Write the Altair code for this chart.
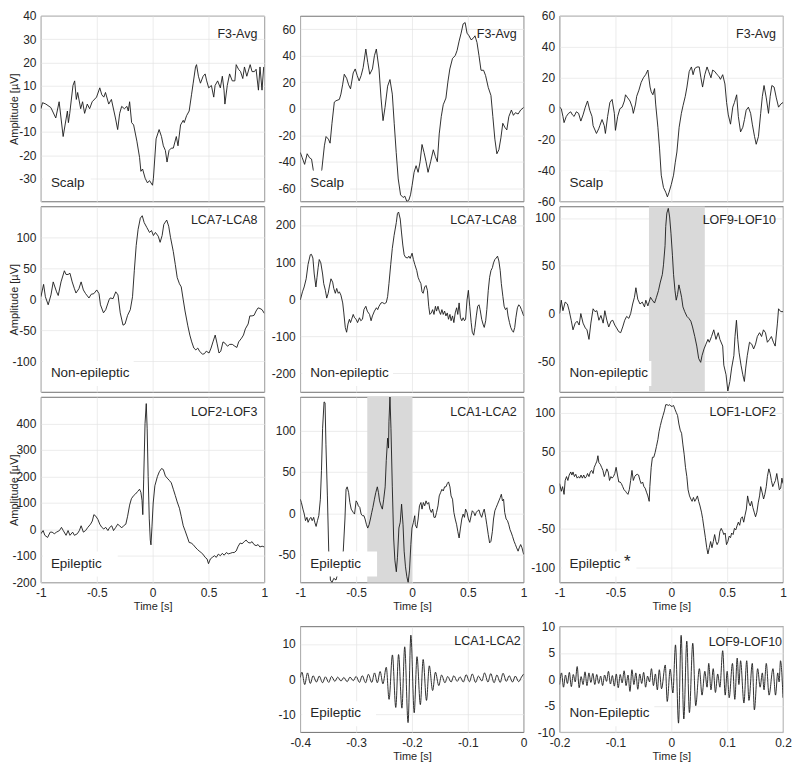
import altair as alt
import pandas as pd

FONT = "Liberation Sans"
TXT = "#262626"
W = 224
H = 186
H4 = 106
GAP = 34

# ---------------- data (time [s], amplitude [uV]) ----------------
A_pts = [(-1.000, 0), (-0.985, 2.6), (-0.956, 2), (-0.911, 0.5), (-0.867, -4), (-0.837, 3), (-0.801, -12),
         (-0.763, -1), (-0.754, -6), (-0.742, -2), (-0.713, 10), (-0.698, 12), (-0.683, 4), (-0.671, 7),
         (-0.644, 0), (-0.627, 3), (-0.609, -2), (-0.585, 2), (-0.564, 0), (-0.541, 3), (-0.502, 5),
         (-0.473, 9), (-0.455, 6), (-0.437, 5), (-0.422, 7), (-0.393, 2), (-0.369, 4), (-0.333, -4),
         (-0.313, -9), (-0.295, -2), (-0.277, 1), (-0.253, 0), (-0.230, 1), (-0.218, -1), (-0.206, 3),
         (-0.188, -6), (-0.170, -7), (-0.141, -14), (-0.117, -21), (-0.105, -27), (-0.090, -26),
         (-0.067, -30), (-0.046, -32), (-0.028, -31), (-0.001, -33), (0.007, -30), (0.031, -13),
         (0.058, -9), (0.079, -12), (0.096, -16), (0.114, -18), (0.129, -23), (0.147, -18), (0.167, -17),
         (0.185, -17), (0.212, -12), (0.227, -16), (0.250, -7), (0.274, -5), (0.283, -6), (0.304, -3),
         (0.327, -1), (0.348, 6), (0.363, 11), (0.384, 18), (0.393, 19), (0.410, 14), (0.428, 11),
         (0.452, 14), (0.470, 15), (0.484, 12), (0.502, 9), (0.526, 10), (0.547, 5), (0.559, 10),
         (0.582, 12), (0.606, 9), (0.624, 14), (0.639, 8), (0.647, 2), (0.668, 10), (0.689, 15),
         (0.713, 12), (0.736, 12), (0.748, 19), (0.769, 17), (0.787, 16), (0.807, 13), (0.822, 18),
         (0.843, 14), (0.873, 19), (0.890, 16), (0.911, 16), (0.926, 17), (0.947, 8), (0.961, 18),
         (0.979, 8), (0.994, 18)]

B_pts = [(-1.000, -33), (-0.982, -37), (-0.961, -42), (-0.938, -34), (-0.917, -37), (-0.899, -38),
         (-0.884, -46), (-0.846, -60), (-0.807, -46), (-0.784, -28), (-0.769, -21), (-0.748, -23),
         (-0.733, -26), (-0.716, -11), (-0.695, 5), (-0.680, 6), (-0.650, 7), (-0.636, 11), (-0.621, 18),
         (-0.606, 26), (-0.585, 23), (-0.567, 18), (-0.550, 15), (-0.526, 27), (-0.508, 30), (-0.490, 25),
         (-0.473, 21), (-0.455, 25), (-0.437, 31), (-0.413, 45), (-0.396, 35), (-0.378, 26), (-0.354, 30),
         (-0.336, 40), (-0.319, 45), (-0.295, 30), (-0.277, 8), (-0.259, -9), (-0.241, 1), (-0.218, 17),
         (-0.197, 22), (-0.176, 11), (-0.159, -11), (-0.141, -33), (-0.123, -53), (-0.102, -65),
         (-0.079, -67), (-0.064, -66), (-0.046, -70), (-0.028, -69), (-0.013, -65), (0.001, -58),
         (0.019, -48), (0.037, -43), (0.055, -48), (0.073, -40), (0.090, -27), (0.108, -33), (0.126, -40),
         (0.144, -48), (0.167, -40), (0.191, -31), (0.209, -36), (0.227, -40), (0.244, -19), (0.262, -6),
         (0.280, 3), (0.304, 8), (0.321, 20), (0.339, 30), (0.363, 38), (0.387, 40), (0.404, 44),
         (0.422, 51), (0.440, 57), (0.458, 64), (0.476, 65), (0.493, 57), (0.511, 55), (0.529, 52),
         (0.547, 53), (0.564, 55), (0.582, 50), (0.600, 40), (0.618, 29), (0.641, 29), (0.659, 25),
         (0.683, 16), (0.707, 10), (0.724, -6), (0.742, -23), (0.760, -34), (0.778, -31), (0.796, -22),
         (0.813, -11), (0.831, -14), (0.849, -16), (0.867, -6), (0.890, -1), (0.908, -5), (0.926, -3),
         (0.950, -4), (0.973, -1), (1.000, 1)]

C_pts = [(-1.000, 1), (-0.985, 0), (-0.970, -5), (-0.960, -9), (-0.940, -5), (-0.920, -3), (-0.900, -2),
         (-0.885, -4), (-0.870, -5), (-0.850, -2), (-0.830, -3), (-0.810, -8), (-0.790, -4), (-0.770, 1),
         (-0.750, 5), (-0.730, -1), (-0.710, -5), (-0.700, -11), (-0.670, -16), (-0.650, -13),
         (-0.640, -11), (-0.620, -7), (-0.600, -11), (-0.590, -16), (-0.570, -5), (-0.550, 4), (-0.530, 6),
         (-0.510, -3), (-0.500, -14), (-0.480, -5), (-0.460, 0), (-0.440, 1), (-0.420, 5), (-0.410, 9),
         (-0.390, 7), (-0.370, 5), (-0.350, 1), (-0.340, -3), (-0.320, 3), (-0.310, 8), (-0.290, 12),
         (-0.270, 17), (-0.250, 20), (-0.230, 22), (-0.210, 25), (-0.190, 14), (-0.180, 11), (-0.165, 9),
         (-0.150, 13), (-0.140, 3), (-0.120, -12), (-0.105, -26), (-0.090, -43), (-0.070, -51),
         (-0.050, -54), (-0.035, -57), (-0.020, -54), (0.000, -49), (0.020, -43), (0.035, -35),
         (0.050, -28), (0.070, -12), (0.090, -3), (0.105, 2), (0.125, 8), (0.140, 14), (0.160, 24),
         (0.180, 27), (0.195, 22), (0.210, 26), (0.230, 27), (0.250, 27), (0.265, 20), (0.280, 14),
         (0.300, 22), (0.320, 27), (0.335, 24), (0.355, 20), (0.370, 25), (0.390, 24), (0.410, 22),
         (0.425, 21), (0.440, 19), (0.460, 22), (0.480, 16), (0.495, 4), (0.510, -4), (0.530, -10),
         (0.550, 1), (0.565, 4), (0.585, 9), (0.600, -5), (0.620, -15), (0.640, -12), (0.655, -7),
         (0.670, -1), (0.690, 1), (0.710, -3), (0.725, -10), (0.745, -18), (0.760, -23), (0.780, -18),
         (0.800, -3), (0.815, 8), (0.830, 15), (0.850, 7), (0.870, -3), (0.885, 8), (0.900, 15),
         (0.920, 14), (0.940, 7), (0.960, 1), (0.980, 3), (1.000, 4)]

D_pts = [(-1.000, 4), (-0.976, 24), (-0.960, 4), (-0.935, -9), (-0.910, 7), (-0.890, 28), (-0.860, 12),
         (-0.845, 6), (-0.820, 28), (-0.790, 46), (-0.775, 40), (-0.757, 40), (-0.740, 42), (-0.720, 28),
         (-0.700, 17), (-0.686, 10), (-0.660, 17), (-0.640, 28), (-0.620, 15), (-0.600, 9), (-0.570, 2),
         (-0.550, 8), (-0.526, 9), (-0.500, 15), (-0.480, 9), (-0.467, -9), (-0.440, -22), (-0.420, -17),
         (-0.390, -1), (-0.380, 2), (-0.354, 1), (-0.330, 12), (-0.310, 7), (-0.290, -22), (-0.265, -42),
         (-0.247, -40), (-0.224, -26), (-0.200, -17), (-0.180, 4), (-0.164, 46), (-0.147, 87),
         (-0.130, 113), (-0.110, 131), (-0.093, 135), (-0.076, 124), (-0.052, 116), (-0.028, 108),
         (-0.010, 111), (0.007, 103), (0.025, 108), (0.050, 102), (0.067, 92), (0.085, 103), (0.100, 121),
         (0.126, 128), (0.144, 118), (0.160, 100), (0.185, 77), (0.203, 56), (0.220, 35), (0.240, 25),
         (0.256, 20), (0.274, -1), (0.290, -19), (0.315, -43), (0.333, -58), (0.350, -69), (0.369, -79),
         (0.387, -82), (0.404, -79), (0.420, -84), (0.446, -89), (0.464, -88), (0.480, -84), (0.505, -87),
         (0.523, -79), (0.540, -69), (0.560, -58), (0.576, -71), (0.594, -87), (0.610, -84), (0.630, -69),
         (0.647, -71), (0.670, -76), (0.690, -73), (0.713, -73), (0.736, -76), (0.754, -78), (0.770, -69),
         (0.796, -63), (0.813, -58), (0.830, -48), (0.855, -40), (0.870, -27), (0.890, -27), (0.908, -26),
         (0.926, -19), (0.944, -14), (0.961, -15), (0.980, -17), (1.000, -23)]

E_pts = [(-1.000, -2), (-0.980, 20), (-0.965, 33), (-0.947, 55), (-0.930, 94), (-0.910, 120),
         (-0.900, 121), (-0.887, 111), (-0.875, 68), (-0.860, 33), (-0.850, 59), (-0.840, 85),
         (-0.830, 107), (-0.816, 98), (-0.800, 68), (-0.790, 42), (-0.775, 24), (-0.763, 3), (-0.750, 16),
         (-0.740, 33), (-0.725, 55), (-0.710, 46), (-0.700, 29), (-0.686, 16), (-0.674, 29), (-0.660, 16),
         (-0.650, 20), (-0.636, 11), (-0.620, -10), (-0.610, -37), (-0.597, -76), (-0.585, -89),
         (-0.573, -67), (-0.560, -54), (-0.550, -63), (-0.540, -54), (-0.526, -41), (-0.514, -50),
         (-0.500, -54), (-0.487, -63), (-0.470, -50), (-0.458, -58), (-0.443, -54), (-0.430, -28),
         (-0.413, -19), (-0.400, -32), (-0.380, -41), (-0.366, -58), (-0.354, -45), (-0.336, -32),
         (-0.318, -23), (-0.307, -28), (-0.295, -19), (-0.277, -10), (-0.265, -9), (-0.247, -12),
         (-0.230, -9), (-0.218, 7), (-0.206, 42), (-0.190, 94), (-0.176, 137), (-0.160, 172), (-0.140, 207),
         (-0.130, 231), (-0.120, 235), (-0.105, 216), (-0.094, 181), (-0.082, 146), (-0.070, 120),
         (-0.058, 113), (-0.040, 111), (-0.028, 116), (-0.016, 110), (0.001, 124), (0.013, 107),
         (0.025, 94), (0.043, 77), (0.055, 59), (0.067, 50), (0.080, 42), (0.090, 20), (0.100, 16),
         (0.114, 33), (0.126, 37), (0.138, 24), (0.150, -19), (0.160, -41), (0.173, -37), (0.185, -28),
         (0.197, -41), (0.210, -19), (0.220, -32), (0.233, -19), (0.244, -32), (0.256, -41), (0.268, -28),
         (0.280, -41), (0.292, -32), (0.304, -45), (0.316, -37), (0.327, -54), (0.340, -41), (0.350, -58),
         (0.363, -45), (0.375, -63), (0.387, -37), (0.400, -23), (0.410, -41), (0.422, -10), (0.434, -50),
         (0.446, -58), (0.458, -50), (0.470, -58), (0.480, -54), (0.493, -2), (0.505, 24), (0.517, -19),
         (0.530, -63), (0.540, -89), (0.553, -97), (0.564, -76), (0.576, -45), (0.588, -19), (0.600, -15),
         (0.610, -28), (0.624, -54), (0.636, -67), (0.647, -76), (0.660, -58), (0.670, -28), (0.683, 24),
         (0.695, 59), (0.707, 77), (0.720, 85), (0.730, 98), (0.742, 107), (0.754, 111), (0.766, 116),
         (0.778, 103), (0.790, 77), (0.800, 42), (0.814, 7), (0.825, -19), (0.837, -28), (0.850, -23),
         (0.860, -45), (0.873, -63), (0.884, -76), (0.896, -84), (0.908, -89), (0.920, -76), (0.930, -50),
         (0.944, -23), (0.956, -15), (0.967, -19), (0.980, -28), (1.000, -45)]

F_pts = [(-1.000, 0), (-0.985, 14), (-0.970, 3), (-0.950, 12), (-0.930, 10), (-0.914, 3), (-0.896, -7),
         (-0.880, -17), (-0.860, -10), (-0.843, -8), (-0.825, -12), (-0.810, 0), (-0.790, -10),
         (-0.770, -15), (-0.755, -17), (-0.737, -27), (-0.720, -10), (-0.700, 5), (-0.683, 2),
         (-0.666, 3), (-0.648, -7), (-0.630, -2), (-0.610, -10), (-0.595, 3), (-0.577, -7), (-0.560, -14),
         (-0.540, -8), (-0.524, -7), (-0.506, -12), (-0.490, -15), (-0.470, -19), (-0.453, -20),
         (-0.435, -14), (-0.417, -7), (-0.400, -3), (-0.380, -5), (-0.364, 0), (-0.346, 10), (-0.330, 17),
         (-0.317, 27), (-0.300, 15), (-0.280, 10), (-0.260, 12), (-0.240, 7), (-0.228, 14), (-0.210, 8),
         (-0.186, 17), (-0.170, 14), (-0.150, 11), (-0.133, 17), (-0.115, 24), (-0.100, 32), (-0.080, 41),
         (-0.070, 51), (-0.056, 71), (-0.050, 91), (-0.040, 105), (-0.027, 110), (-0.015, 101),
         (-0.003, 84), (0.010, 61), (0.020, 41), (0.033, 24), (0.044, 14), (0.056, 20), (0.068, 30),
         (0.080, 24), (0.092, 17), (0.104, 7), (0.120, 2), (0.140, -3), (0.157, -5), (0.175, -8),
         (0.190, -14), (0.210, -24), (0.228, -34), (0.245, -47), (0.263, -51), (0.275, -44), (0.293, -37),
         (0.310, -32), (0.328, -27), (0.340, -30), (0.360, -24), (0.380, -17), (0.400, -27), (0.420, -20),
         (0.435, -27), (0.460, -34), (0.470, -54), (0.490, -64), (0.506, -81), (0.524, -71), (0.540, -57),
         (0.560, -44), (0.570, -24), (0.583, -7), (0.595, -27), (0.607, -41), (0.624, -54), (0.640, -64),
         (0.654, -71), (0.666, -57), (0.680, -44), (0.700, -30), (0.720, -32), (0.737, -37), (0.754, -32),
         (0.770, -24), (0.790, -20), (0.808, -24), (0.825, -17), (0.843, -20), (0.860, -30), (0.880, -27),
         (0.896, -24), (0.914, -30), (0.930, -34), (0.950, -10), (0.960, 5), (0.980, 2), (1.000, 2)]

G_pts = [(-1.000, -16), (-0.980, -4), (-0.965, -22), (-0.940, -30), (-0.917, -10), (-0.900, -10),
         (-0.880, -16), (-0.860, -10), (-0.834, -4), (-0.816, 8), (-0.800, -4), (-0.775, -22),
         (-0.757, -4), (-0.740, -22), (-0.716, -10), (-0.700, -22), (-0.674, -16), (-0.656, -4),
         (-0.640, 14), (-0.620, -10), (-0.600, -4), (-0.580, 8), (-0.556, 20), (-0.540, 32), (-0.526, 56),
         (-0.508, 50), (-0.490, 38), (-0.473, 20), (-0.455, 8), (-0.437, 2), (-0.420, 8), (-0.400, -4),
         (-0.384, 8), (-0.366, 14), (-0.350, -4), (-0.330, 8), (-0.313, 20), (-0.295, 14), (-0.277, 6),
         (-0.260, 14), (-0.240, 20), (-0.224, 50), (-0.206, 92), (-0.190, 116), (-0.170, 128),
         (-0.153, 134), (-0.135, 143), (-0.117, 152), (-0.105, 140), (-0.095, 110), (-0.088, 56),
         (-0.080, 190), (-0.068, 400), (-0.057, 475), (-0.049, 380), (-0.040, 200), (-0.030, 40),
         (-0.021, -40), (-0.015, -58), (-0.006, 10), (0.005, 100), (0.020, 165), (0.043, 200), (0.060, 218),
         (0.080, 230), (0.096, 226), (0.114, 202), (0.130, 194), (0.150, 185), (0.167, 176), (0.185, 152),
         (0.203, 128), (0.220, 104), (0.240, 80), (0.256, 50), (0.274, 14), (0.290, -4), (0.310, -28),
         (0.327, -49), (0.345, -51), (0.363, -57), (0.380, -66), (0.400, -75), (0.416, -81), (0.434, -87),
         (0.450, -93), (0.470, -105), (0.487, -111), (0.500, -129), (0.517, -111), (0.535, -105),
         (0.553, -99), (0.570, -105), (0.588, -93), (0.606, -99), (0.624, -90), (0.640, -97), (0.660, -87),
         (0.677, -92), (0.695, -90), (0.713, -87), (0.730, -87), (0.748, -81), (0.766, -63), (0.784, -51),
         (0.800, -54), (0.820, -46), (0.837, -40), (0.855, -49), (0.873, -51), (0.890, -46), (0.908, -57),
         (0.926, -61), (0.944, -57), (0.960, -66), (0.980, -63), (1.000, -66)]

H_pts = [(-1.000, 17), (-0.990, 13), (-0.976, 5), (-0.964, -1), (-0.953, -9), (-0.940, -5), (-0.930, -11),
         (-0.917, -7), (-0.905, -5), (-0.893, -9), (-0.880, -5), (-0.870, -11), (-0.858, -16),
         (-0.846, -9), (-0.834, -3), (-0.820, 17), (-0.810, 52), (-0.800, 103), (-0.787, 135),
         (-0.778, 134), (-0.770, 83), (-0.757, 21), (-0.745, -46), (-0.730, -81), (-0.716, -84),
         (-0.700, -79), (-0.680, -81), (-0.656, -69), (-0.630, -54), (-0.615, -46), (-0.600, -7),
         (-0.590, 29), (-0.580, 32), (-0.567, 25), (-0.556, 13), (-0.544, 5), (-0.526, 1), (-0.514, -1),
         (-0.500, 15), (-0.490, 13), (-0.480, 9), (-0.467, 7), (-0.455, -1), (-0.443, -3), (-0.430, -3),
         (-0.420, -7), (-0.407, -14), (-0.396, -18), (-0.384, -14), (-0.372, -7), (-0.360, 1), (-0.350, 7),
         (-0.336, 17), (-0.324, 25), (-0.310, 32), (-0.300, 25), (-0.290, 15), (-0.277, 9), (-0.265, 5),
         (-0.253, 17), (-0.240, 32), (-0.230, 64), (-0.218, 91), (-0.210, 79), (-0.206, 111),
         (-0.197, 141), (-0.188, 103), (-0.176, 32), (-0.164, -30), (-0.153, -57), (-0.140, -71),
         (-0.130, -54), (-0.117, -18), (-0.105, -11), (-0.093, 11), (-0.080, -14), (-0.070, -46),
         (-0.058, -65), (-0.046, -77), (-0.034, -84), (-0.022, -69), (-0.010, -38), (0.000, -18),
         (0.013, -11), (0.025, -3), (0.030, -14), (0.043, -18), (0.055, -7), (0.067, 9), (0.080, 13),
         (0.090, 5), (0.102, 13), (0.114, 9), (0.126, 15), (0.138, 11), (0.150, 13), (0.160, 5),
         (0.173, 1), (0.185, 5), (0.197, -5), (0.209, -5), (0.220, 1), (0.233, 9), (0.244, 21), (0.256, 25),
         (0.268, 29), (0.280, 27), (0.292, 32), (0.304, 32), (0.316, 36), (0.327, 38), (0.340, 32),
         (0.350, 21), (0.363, 17), (0.375, 1), (0.387, -7), (0.400, -14), (0.410, -22), (0.422, -30),
         (0.434, -18), (0.446, -7), (0.458, -1), (0.470, -5), (0.480, 5), (0.493, 1), (0.505, -7),
         (0.517, -11), (0.530, -3), (0.540, 3), (0.553, 1), (0.564, -3), (0.576, 1), (0.588, 3), (0.600, 4),
         (0.610, -1), (0.624, -5), (0.636, 1), (0.647, 5), (0.660, -5), (0.670, -14), (0.683, -26),
         (0.695, -36), (0.707, -34), (0.720, -22), (0.730, -7), (0.742, 3), (0.754, 7), (0.766, 11),
         (0.778, 15), (0.790, 19), (0.800, 23), (0.810, 15), (0.820, 17), (0.830, 1), (0.843, -7),
         (0.855, -9), (0.867, -14), (0.878, -20), (0.890, -24), (0.900, -28), (0.914, -34), (0.926, -38),
         (0.937, -42), (0.950, -46), (0.960, -42), (0.973, -38), (0.985, -42), (1.000, -50)]

I_pts = [(-1.000, 8), (-0.985, -2), (-0.973, 4), (-0.960, -6), (-0.950, 12), (-0.938, 17), (-0.926, 12),
         (-0.914, 19), (-0.900, 23), (-0.890, 19), (-0.880, 23), (-0.867, 17), (-0.855, 20), (-0.843, 15),
         (-0.830, 17), (-0.820, 15), (-0.808, 19), (-0.796, 15), (-0.784, 19), (-0.772, 15), (-0.760, 17),
         (-0.750, 21), (-0.737, 17), (-0.725, 23), (-0.713, 25), (-0.700, 21), (-0.690, 29), (-0.678, 33),
         (-0.666, 37), (-0.657, 44), (-0.648, 35), (-0.636, 33), (-0.624, 29), (-0.612, 25), (-0.600, 17),
         (-0.590, 21), (-0.577, 27), (-0.565, 23), (-0.553, 12), (-0.540, 17), (-0.530, 15), (-0.518, 17),
         (-0.506, 21), (-0.494, 29), (-0.482, 19), (-0.470, 10), (-0.458, 10), (-0.447, 8), (-0.435, 4),
         (-0.423, 0), (-0.410, -2), (-0.400, -4), (-0.388, -6), (-0.376, 0), (-0.364, 12), (-0.352, 25),
         (-0.340, 12), (-0.328, 17), (-0.317, 19), (-0.305, 20), (-0.293, 19), (-0.280, 12), (-0.270, 8),
         (-0.257, 10), (-0.245, 4), (-0.234, 2), (-0.220, -4), (-0.210, -8), (-0.198, -15), (-0.192, 4),
         (-0.180, 29), (-0.169, 42), (-0.157, 42), (-0.145, 48), (-0.133, 56), (-0.120, 65), (-0.110, 75),
         (-0.098, 83), (-0.086, 90), (-0.074, 96), (-0.062, 102), (-0.050, 110), (-0.038, 110),
         (-0.027, 109), (-0.015, 110), (-0.003, 108), (0.009, 108), (0.020, 109), (0.033, 104),
         (0.044, 100), (0.056, 96), (0.068, 85), (0.080, 77), (0.092, 73), (0.104, 58), (0.115, 46),
         (0.127, 29), (0.139, 17), (0.150, 0), (0.163, -8), (0.175, -12), (0.186, -15), (0.198, -10),
         (0.210, -15), (0.222, -12), (0.234, -8), (0.245, -15), (0.257, -21), (0.270, -29), (0.280, -37),
         (0.293, -50), (0.305, -62), (0.317, -75), (0.328, -83), (0.340, -75), (0.352, -67), (0.364, -75),
         (0.376, -67), (0.388, -58), (0.400, -67), (0.410, -71), (0.423, -67), (0.435, -54), (0.447, -50),
         (0.460, -54), (0.470, -58), (0.482, -56), (0.494, -71), (0.506, -67), (0.518, -60), (0.530, -62),
         (0.540, -56), (0.553, -58), (0.565, -50), (0.577, -52), (0.590, -46), (0.600, -42), (0.612, -46),
         (0.624, -37), (0.636, -35), (0.648, -42), (0.660, -33), (0.672, -25), (0.683, -8), (0.695, -17),
         (0.707, -21), (0.719, -15), (0.730, -23), (0.742, -29), (0.754, -35), (0.766, -29), (0.778, -17),
         (0.790, -8), (0.800, 4), (0.814, -4), (0.826, -12), (0.837, -6), (0.850, 4), (0.860, 17),
         (0.873, 27), (0.885, 21), (0.896, 12), (0.908, 4), (0.920, 8), (0.932, 12), (0.944, 21),
         (0.956, 10), (0.967, 0), (0.979, 2), (0.990, 15), (1.000, 8)]

J_pts = [(-0.400, 0.5), (-0.397, 2.0), (-0.392, -1.5), (-0.387, 1.8), (-0.382, -1.2), (-0.377, 1.0),
         (-0.371, -0.8), (-0.366, 0.9), (-0.360, -1.0), (-0.355, 0.7), (-0.349, -0.9), (-0.344, 0.8),
         (-0.338, -0.6), (-0.333, 0.6), (-0.327, -0.5), (-0.322, 0.5), (-0.316, -0.7), (-0.311, 0.6),
         (-0.305, -0.4), (-0.300, 0.8), (-0.294, -0.9), (-0.289, 1.0), (-0.283, -1.0), (-0.278, 1.4),
         (-0.272, -0.9), (-0.267, 1.8), (-0.262, -1.0), (-0.257, 2.2), (-0.252, -1.3), (-0.246, 3.4),
         (-0.241, -5.7), (-0.235, 6.9), (-0.229, -8.0), (-0.224, 7.0), (-0.218, -8.2), (-0.213, 9.2),
         (-0.207, -12.3), (-0.202, 12.5), (-0.196, -9.5), (-0.191, 6.4), (-0.185, -7.2), (-0.180, 5.6),
         (-0.174, -6.0), (-0.169, 3.8), (-0.163, -3.2), (-0.158, 2.0), (-0.152, -1.8), (-0.147, 1.2),
         (-0.141, -1.0), (-0.136, 0.8), (-0.130, -0.8), (-0.125, 1.0), (-0.119, -0.6), (-0.114, 0.7),
         (-0.108, -0.8), (-0.103, 1.3), (-0.097, -0.7), (-0.092, 1.5), (-0.086, -0.9), (-0.081, 0.9),
         (-0.075, -0.5), (-0.070, 1.8), (-0.064, -0.8), (-0.059, 1.6), (-0.053, -1.0), (-0.048, 1.2),
         (-0.042, -0.9), (-0.037, 1.7), (-0.031, -0.6), (-0.026, 1.0), (-0.020, -0.8), (-0.015, 0.9),
         (-0.009, -0.7), (-0.004, 0.6), (0.000, 1.5)]

K_pts = [(-0.200, -1.0), (-0.1965, 1.2), (-0.193, -1.5), (-0.1895, 0.8), (-0.186, -0.8), (-0.1825, 1.3),
         (-0.179, -1.4), (-0.1755, 0.9), (-0.172, -0.5), (-0.1685, 2.4), (-0.165, -1.6), (-0.1615, 0.5),
         (-0.158, -1.0), (-0.1545, 1.4), (-0.151, -1.2), (-0.1475, 1.2), (-0.144, -0.6), (-0.1405, 1.1),
         (-0.137, -1.0), (-0.1335, 0.9), (-0.130, -0.8), (-0.1265, 0.6), (-0.123, -1.2), (-0.1195, 0.8),
         (-0.116, -0.4), (-0.1125, 1.5), (-0.109, -0.9), (-0.1055, 0.7), (-0.102, -1.3), (-0.0985, 1.0),
         (-0.095, -1.6), (-0.0915, 0.9), (-0.088, -0.7), (-0.0845, 1.6), (-0.081, -1.2), (-0.0775, 0.8),
         (-0.074, -2.3), (-0.0705, 1.8), (-0.067, -1.0), (-0.0635, 1.2), (-0.060, -1.9), (-0.0565, 1.0),
         (-0.053, -0.8), (-0.0495, 1.3), (-0.046, -1.5), (-0.0425, 0.6), (-0.039, -0.5), (-0.0355, 2.0),
         (-0.032, -1.2), (-0.0285, 1.0), (-0.025, -2.0), (-0.0215, 1.8), (-0.0175, -1.8), (-0.0108, 2.7),
         (-0.0073, -4.2), (-0.002, 1.9), (0.0028, -2.6), (0.0075, 6.5), (0.0129, -8.3), (0.0176, 8.3),
         (0.0224, -7.5), (0.0277, 7.2), (0.0324, -6.3), (0.0384, 6.8), (0.0437, -5.0), (0.0502, 2.0),
         (0.055, -3.0), (0.060, 1.5), (0.064, -1.5), (0.067, 3.0), (0.071, -2.0), (0.075, 2.0),
         (0.079, -2.5), (0.083, 1.0), (0.087, -1.5), (0.092, 5.4), (0.0965, -3.0), (0.100, 1.5),
         (0.1036, -3.5), (0.1095, 3.0), (0.1137, -3.8), (0.118, 4.0), (0.121, -1.0), (0.124, 3.5),
         (0.130, -4.5), (0.135, 3.5), (0.139, -4.0), (0.145, 3.0), (0.1487, -5.8), (0.1546, 2.0),
         (0.159, -1.5), (0.163, 1.2), (0.166, -2.0), (0.170, 3.0), (0.175, -3.0), (0.182, 2.0),
         (0.1866, -3.0), (0.1905, 1.2), (0.193, -0.5), (0.1955, 3.5), (0.200, -3.5)]

F_band = [(-0.2, 0.3)]
H_band = [(-0.4, 0.0)]

T_LONG = [-1, -0.5, 0, 0.5, 1]
T_J = [-0.4, -0.3, -0.2, -0.1, 0]
T_K = [-0.2, -0.1, 0, 0.1, 0.2]


def panel(pts, xdom, xvals, ydom, yvals, chan, chan_y, chan_r, lab, box_r, h,
          xlabels=False, ytitle=False, band=None, star=False, interp="linear"):
    xaxis = dict(values=xvals, labels=xlabels, labelExpr="'' + datum.value")
    if xlabels:
        xaxis["title"] = "Time [s]"
    else:
        xaxis["title"] = None
    yaxis = dict(values=yvals, labelExpr="'' + datum.value")
    if ytitle:
        yaxis.update(title="Amplitude [µV]", titleX=-21, titleY=h / 2, titleBaseline="bottom")
    else:
        yaxis["title"] = None
    xs = alt.Scale(domain=xdom, nice=False, zero=False)
    ys = alt.Scale(domain=ydom, nice=False, zero=False)

    layers = []
    if band:
        bdf = pd.DataFrame([(b[0], b[1], ydom[0], ydom[1]) for b in band], columns=["t0", "t1", "v0", "v1"])
        layers.append(alt.Chart(bdf).mark_rect(color="#d9d9d9").encode(
            x=alt.X("t0:Q", scale=xs, axis=alt.Axis(**xaxis)), x2="t1:Q",
            y=alt.Y("v0:Q", scale=ys, axis=alt.Axis(**yaxis)), y2="v1:Q"))
    df = pd.DataFrame(pts, columns=["t", "v"])
    layers.append(alt.Chart(df).mark_line(color="#1a1a1a", strokeWidth=0.9, clip=True,
                                          interpolate=interp).encode(
        x=alt.X("t:Q", scale=xs, axis=alt.Axis(**xaxis)),
        y=alt.Y("v:Q", scale=ys, axis=alt.Axis(**yaxis)),
        order="t:Q"))
    one = pd.DataFrame({"s": [lab]})
    layers.append(alt.Chart(one).mark_rect(color="white").encode(
        x=alt.value(2), x2=alt.value(box_r), y=alt.value(h - 31), y2=alt.value(h - 6)))
    layers.append(alt.Chart(one).mark_text(align="left", baseline="middle", font=FONT, fontSize=13.5,
                                           color=TXT).encode(
        x=alt.value(10), y=alt.value(h - 19), text="s:N"))
    layers.append(alt.Chart(pd.DataFrame({"s": [chan]})).mark_text(
        align="right", baseline="middle", font=FONT, fontSize=12.5, color=TXT).encode(
        x=alt.value(W - chan_r), y=alt.value(chan_y), text="s:N"))
    if star:
        layers.append(alt.Chart(pd.DataFrame({"s": ["*"]})).mark_text(
            align="center", baseline="middle", font=FONT, fontSize=17, color=TXT).encode(
            x=alt.value(68), y=alt.value(h - 21), text="s:N"))
    return alt.layer(*layers).properties(width=W, height=h)


def blank(h):
    return alt.Chart(pd.DataFrame({"s": [""]})).mark_text().encode(
        x=alt.value(0), y=alt.value(0), text="s:N").properties(
        width=W, height=h, view=alt.ViewBackground(stroke="transparent"))


A = panel(A_pts, [-1, 1], T_LONG, [-40, 40], [-30, -20, -10, 0, 10, 20, 30, 40], "F3-Avg", 18, 7,
          "Scalp", 50, H, ytitle=True)
B = panel(B_pts, [-1, 1], T_LONG, [-70, 70], [-60, -40, -20, 0, 20, 40, 60], "F3-Avg", 18, 7,
          "Scalp", 50, H)
C = panel(C_pts, [-1, 1], T_LONG, [-60, 60], [-60, -40, -20, 0, 20, 40, 60], "F3-Avg", 18, 7,
          "Scalp", 50, H)
D = panel(D_pts, [-1, 1], T_LONG, [-150, 150], [-100, -50, 0, 50, 100], "LCA7-LCA8", 14, 7,
          "Non-epileptic", 93, H, ytitle=True)
E = panel(E_pts, [-1, 1], T_LONG, [-250, 250], [-200, -100, 0, 100, 200], "LCA7-LCA8", 14, 7,
          "Non-epileptic", 93, H)
F = panel(F_pts, [-1, 1], T_LONG, [-82, 112], [-50, 0, 50, 100], "LOF9-LOF10", 14, 7,
          "Non-epileptic", 92, H, band=F_band)
G = panel(G_pts, [-1, 1], T_LONG, [-200, 500], [-200, -100, 0, 100, 200, 300, 400], "LOF2-LOF3", 15, 7,
          "Epileptic", 77, H, xlabels=True, ytitle=True)
Hp = panel(H_pts, [-1, 1], T_LONG, [-84, 141], [-50, 0, 50, 100], "LCA1-LCA2", 15, 7,
           "Epileptic", 77, H, xlabels=True, band=H_band)
I = panel(I_pts, [-1, 1], T_LONG, [-120, 120], [-100, -50, 0, 50, 100], "LOF1-LOF2", 15, 7,
          "Epileptic", 77, H, xlabels=True, star=True)
J = panel(J_pts, [-0.4, 0], T_J, [-15, 15], [-10, 0, 10], "LCA1-LCA2", 15, 3,
          "Epileptic", 76, H4, xlabels=True, interp="monotone")
K = panel(K_pts, [-0.2, 0.2], T_K, [-10, 10], [-10, -5, 0, 5, 10], "LOF9-LOF10", 16, 1,
          "Non-Epileptic", 95, H4, xlabels=True, interp="monotone")

chart = alt.concat(
    A, B, C, D, E, F, G, Hp, I,
    blank(GAP), blank(GAP), blank(GAP),
    blank(H4), J, K,
    columns=3, spacing={"row": 5, "column": 36}, bounds="flush", align="each",
    padding={"left": 0, "top": 0, "right": 0, "bottom": 0}, background="white",
).configure_view(
    stroke="#4d4d4d", strokeWidth=0.8
).configure_axis(
    labelFont=FONT, labelFontSize=12, labelColor=TXT, titleFont=FONT, titleFontSize=11,
    titleFontWeight="normal", titleColor=TXT, gridColor="#e3e3e3", gridWidth=0.7,
    domain=False, ticks=False, labelPadding=5, titlePadding=2, labelFlush=False, labelOverlap=False
)

chart.save("out.html", embed_options={"renderer": "svg", "actions": False})
